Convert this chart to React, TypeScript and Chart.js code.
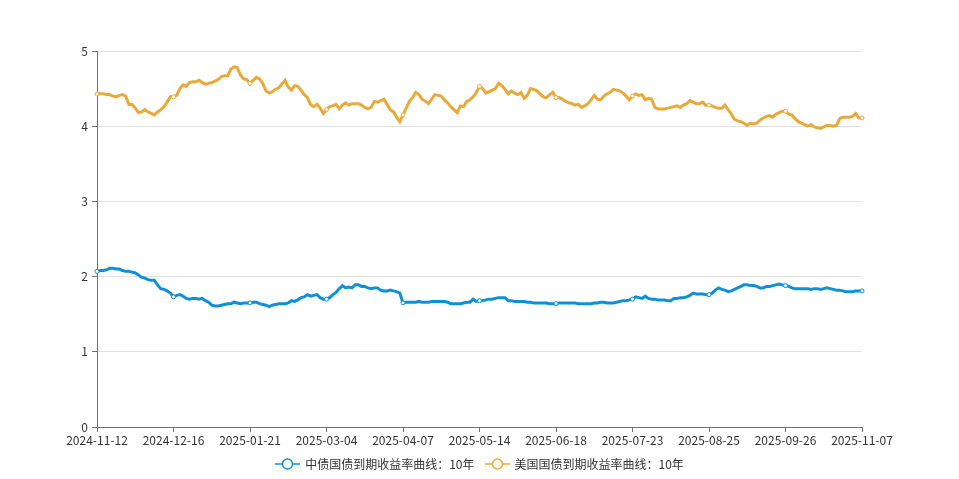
import { useEffect, useRef } from 'react';
import { Chart, registerables } from 'chart.js';

Chart.register(...registerables);

const tickLabels = [
  '2024-11-12', '2024-12-16', '2025-01-21', '2025-03-04', '2025-04-07', '2025-05-14',
  '2025-06-18', '2025-07-23', '2025-08-25', '2025-09-26', '2025-11-07',
];

const seriesNames = ['中债国债到期收益率曲线：10年', '美国国债到期收益率曲线：10年'];

const cnYield = [
  2.07, 2.08, 2.08, 2.09, 2.11, 2.11, 2.10, 2.10, 2.08, 2.07,
  2.07, 2.06, 2.05, 2.02, 1.99, 1.98, 1.96, 1.95, 1.95, 1.89,
  1.84, 1.83, 1.81, 1.78, 1.73, 1.75, 1.76, 1.74, 1.71, 1.70,
  1.71, 1.71, 1.70, 1.71, 1.68, 1.66, 1.62, 1.61, 1.61, 1.62,
  1.63, 1.64, 1.64, 1.66, 1.65, 1.64, 1.65, 1.65, 1.65, 1.66,
  1.66, 1.64, 1.63, 1.62, 1.60, 1.62, 1.63, 1.64, 1.64, 1.64,
  1.65, 1.68, 1.67, 1.69, 1.72, 1.73, 1.76, 1.74, 1.75, 1.76,
  1.72, 1.70, 1.70, 1.72, 1.76, 1.79, 1.84, 1.88, 1.85, 1.86,
  1.85, 1.89, 1.89, 1.87, 1.87, 1.85, 1.84, 1.85, 1.85, 1.82,
  1.81, 1.81, 1.82, 1.81, 1.80, 1.78, 1.65, 1.66, 1.66, 1.66,
  1.66, 1.67, 1.66, 1.66, 1.66, 1.67, 1.67, 1.67, 1.67, 1.67,
  1.66, 1.64, 1.64, 1.64, 1.64, 1.65, 1.66, 1.66, 1.70, 1.67,
  1.68, 1.68, 1.69, 1.70, 1.70, 1.71, 1.72, 1.72, 1.72, 1.68,
  1.68, 1.67, 1.67, 1.67, 1.67, 1.66, 1.66, 1.65, 1.65, 1.65,
  1.65, 1.65, 1.64, 1.64, 1.64, 1.65, 1.65, 1.65, 1.65, 1.65,
  1.65, 1.64, 1.64, 1.64, 1.64, 1.64, 1.65, 1.65, 1.66, 1.66,
  1.65, 1.65, 1.65, 1.66, 1.67, 1.68, 1.68, 1.69, 1.70, 1.73,
  1.72, 1.71, 1.74, 1.71, 1.70, 1.70, 1.69, 1.69, 1.69, 1.68,
  1.68, 1.71, 1.71, 1.72, 1.72, 1.73, 1.75, 1.78, 1.77, 1.77,
  1.77, 1.76, 1.76, 1.78, 1.82, 1.85, 1.83, 1.82, 1.80, 1.81,
  1.83, 1.85, 1.87, 1.89, 1.89, 1.88, 1.88, 1.87, 1.85, 1.85,
  1.87, 1.87, 1.88, 1.89, 1.90, 1.89, 1.88, 1.87, 1.85, 1.84,
  1.84, 1.84, 1.84, 1.84, 1.83, 1.84, 1.84, 1.83, 1.84, 1.85,
  1.84, 1.83, 1.82, 1.82, 1.81, 1.80, 1.80, 1.80, 1.81, 1.81, 1.81,
];

const usYield = [
  4.43, 4.43, 4.43, 4.42, 4.42, 4.40, 4.39, 4.41, 4.42, 4.40,
  4.29, 4.29, 4.24, 4.18, 4.19, 4.22, 4.19, 4.17, 4.15, 4.19,
  4.22, 4.26, 4.32, 4.39, 4.39, 4.41, 4.50, 4.55, 4.53, 4.58,
  4.59, 4.59, 4.61, 4.58, 4.56, 4.57, 4.58, 4.60, 4.62, 4.66,
  4.67, 4.67, 4.76, 4.79, 4.78, 4.68, 4.63, 4.62, 4.57, 4.61,
  4.65, 4.63, 4.57, 4.47, 4.44, 4.46, 4.49, 4.51, 4.56, 4.61,
  4.52, 4.48, 4.54, 4.53, 4.48, 4.42, 4.38, 4.29, 4.26, 4.29,
  4.24, 4.17, 4.22, 4.26, 4.27, 4.29, 4.23, 4.28, 4.31, 4.28,
  4.30, 4.30, 4.30, 4.28, 4.25, 4.23, 4.25, 4.33, 4.32, 4.34,
  4.36, 4.29, 4.22, 4.19, 4.12, 4.06, 4.15, 4.24, 4.33, 4.38,
  4.45, 4.42, 4.36, 4.33, 4.30, 4.36, 4.42, 4.41, 4.40, 4.35,
  4.31, 4.26, 4.22, 4.18, 4.27, 4.26, 4.33, 4.35, 4.39, 4.45,
  4.53, 4.50, 4.44, 4.46, 4.48, 4.50, 4.57, 4.54, 4.49, 4.43,
  4.47, 4.44, 4.42, 4.45, 4.37, 4.41, 4.50, 4.49, 4.47, 4.43,
  4.39, 4.38, 4.42, 4.45, 4.38, 4.38, 4.36, 4.33, 4.31, 4.30,
  4.28, 4.29, 4.25, 4.27, 4.30, 4.35, 4.41, 4.36, 4.35, 4.40,
  4.43, 4.45, 4.49, 4.48, 4.47, 4.44, 4.40, 4.35, 4.40, 4.43,
  4.41, 4.42, 4.35, 4.37, 4.36, 4.25, 4.23, 4.23, 4.23, 4.24,
  4.25, 4.26, 4.27, 4.25, 4.28, 4.30, 4.34, 4.32, 4.30, 4.30,
  4.32, 4.28, 4.28, 4.27, 4.25, 4.24, 4.24, 4.28, 4.22, 4.16,
  4.09, 4.07, 4.06, 4.04, 4.01, 4.04, 4.03, 4.04, 4.08, 4.11,
  4.13, 4.14, 4.12, 4.16, 4.18, 4.20, 4.20, 4.16, 4.15, 4.10,
  4.06, 4.04, 4.02, 4.00, 4.02, 3.99, 3.98, 3.97, 3.99, 4.01,
  4.01, 4.00, 4.01, 4.10, 4.12, 4.12, 4.12, 4.13, 4.17, 4.11, 4.11,
];

const yTicks = [0, 1, 2, 3, 4, 5];

const TICK_EVERY = 24;
const BLUE = '#0f8fd7';
const ORANGE = '#e8a93a';
const AXIS = '#6e7079';
const GRID = '#e0e0e0';
const TEXT = '#333333';
const FONT = '"Microsoft YaHei", "Noto Sans CJK SC", sans-serif';
const colors = [BLUE, ORANGE];

function LegendIcon({ color }: { color: string }) {
  return (
    <svg width={25} height={14} style={{ display: 'block' }}>
      <line x1={0} y1={7} x2={25} y2={7} stroke={color} strokeWidth={1.5} />
      <circle cx={12.5} cy={7} r={5} fill="#fff" stroke={color} strokeWidth={1.5} />
    </svg>
  );
}

export default function App() {
  const ref = useRef<HTMLCanvasElement>(null);

  useEffect(() => {
    document.body.style.margin = '0';
    const makeDs = (label: string, values: number[], color: string) => ({
      label,
      data: values.map((y, i) => ({ x: i, y })),
      borderColor: color,
      backgroundColor: color,
      borderWidth: 3,
      tension: 0,
      clip: false as const,
      pointRadius: (c: any) => (c.dataIndex % TICK_EVERY === 0 ? 2 : 0),
      pointBackgroundColor: '#ffffff',
      pointBorderColor: color,
      pointBorderWidth: 1,
      pointHoverRadius: 0,
    });

    const chart = new Chart(ref.current!, {
      type: 'line',
      data: {
        datasets: [
          makeDs(seriesNames[0], cnYield, BLUE),
          makeDs(seriesNames[1], usYield, ORANGE),
        ],
      },
      options: {
        responsive: false,
        animation: false,
        devicePixelRatio: 1,
        layout: { padding: { top: 51, right: 97, left: 0, bottom: 0 } },
        plugins: { legend: { display: false }, tooltip: { enabled: false } },
        scales: {
          x: {
            type: 'linear',
            min: 0,
            max: cnYield.length - 1,
            afterFit: (s: any) => { s.height = 52; },
            afterBuildTicks: (s: any) => {
              s.ticks = tickLabels.map((_, i) => ({ value: i * TICK_EVERY }));
            },
            ticks: {
              autoSkip: false,
              maxRotation: 0,
              minRotation: 0,
              padding: 1,
              color: TEXT,
              font: { family: FONT, size: 12 },
              callback: (v: any) => tickLabels[Math.round(Number(v) / TICK_EVERY)] ?? '',
            },
            grid: { drawOnChartArea: false, drawTicks: true, tickLength: 5, tickColor: AXIS },
            border: { display: true, color: AXIS, width: 1 },
          },
          y: {
            min: 0,
            max: 5,
            afterFit: (s: any) => { s.width = 97; },
            afterBuildTicks: (s: any) => {
              s.ticks = yTicks.map((v) => ({ value: v }));
            },
            ticks: {
              padding: 4,
              color: TEXT,
              font: { family: FONT, size: 12 },
              callback: (v: any) => String(v),
            },
            grid: {
              color: (c: any) => (c.tick && c.tick.value === 0 ? 'rgba(0,0,0,0)' : GRID),
              tickColor: AXIS,
              tickLength: 5,
              lineWidth: 1,
            },
            border: { display: true, color: AXIS, width: 1 },
          },
        },
      },
    });
    return () => chart.destroy();
  }, []);

  return (
    <div style={{ position: 'relative', width: 959, height: 479, fontFamily: FONT }}>
      <canvas ref={ref} width={959} height={479} style={{ display: 'block' }} />
      <div
        style={{
          position: 'absolute',
          top: 456,
          left: 0,
          width: 959,
          display: 'flex',
          justifyContent: 'center',
          alignItems: 'center',
          gap: 10,
        }}
      >
        {seriesNames.map((name, i) => (
          <div key={name} style={{ display: 'flex', alignItems: 'center' }}>
            <LegendIcon color={colors[i]} />
            <span style={{ marginLeft: 5, fontSize: 12, color: TEXT, lineHeight: '16px' }}>{name}</span>
          </div>
        ))}
      </div>
    </div>
  );
}
